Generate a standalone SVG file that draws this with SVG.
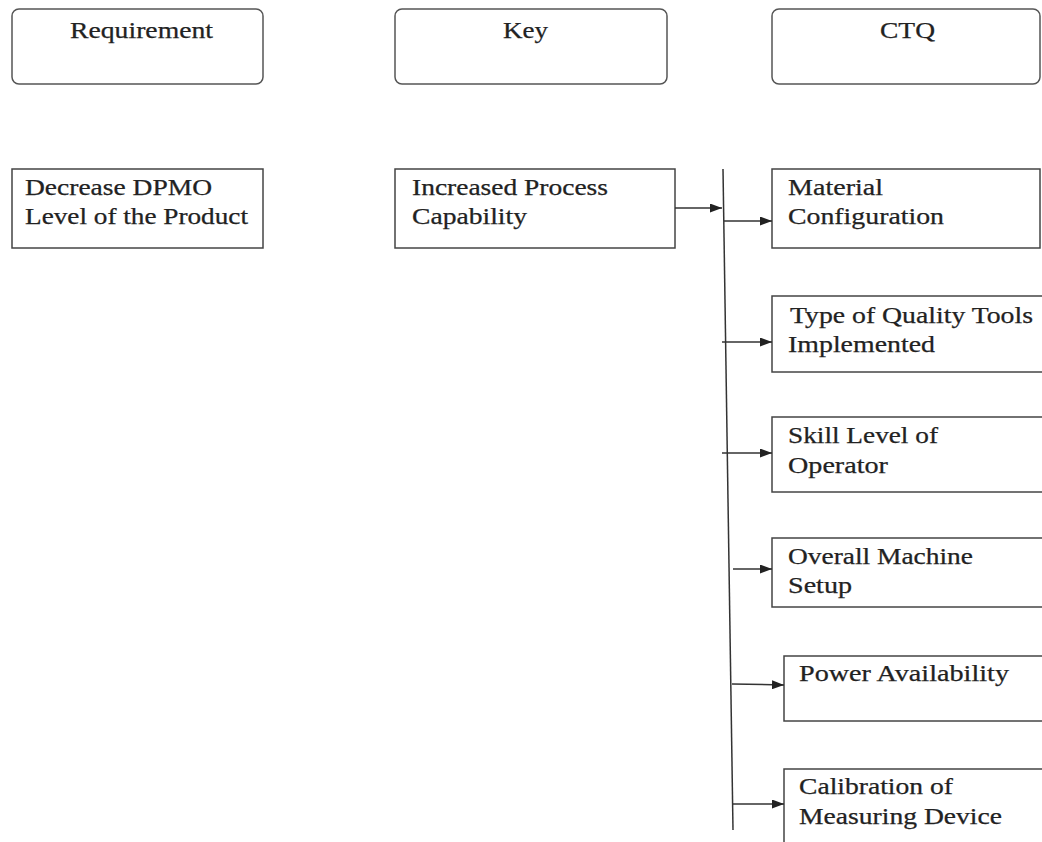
<svg xmlns="http://www.w3.org/2000/svg" width="1042" height="842" viewBox="0 0 1042 842">
  <style>
    .hdr { fill: #ffffff; stroke: #555555; stroke-width: 1.5; }
    .box { fill: #ffffff; stroke: #444444; stroke-width: 1.5; }
    .lbl { font-family: "Liberation Serif", "Times New Roman", serif; font-size: 23px; fill: #222222; stroke: #222222; stroke-width: 0.25; }
    .wire { fill: none; stroke: #333333; stroke-width: 1.5; }
  </style>
  <defs>
    <marker id="arrow" viewBox="0 0 12 9" refX="12" refY="4.5" markerWidth="12" markerHeight="9" markerUnits="userSpaceOnUse" orient="auto">
      <path d="M0,0 L12,4.5 L0,9 Z" fill="#222222"/>
    </marker>
  </defs>
  <rect width="1042" height="842" fill="#ffffff"/>

  <!-- column headers -->
  <g id="hdr-requirement">
    <rect class="hdr" x="12" y="9" width="251" height="75" rx="7"/>
    <text class="lbl" x="70" y="38" textLength="143" lengthAdjust="spacingAndGlyphs">Requirement</text>
  </g>
  <g id="hdr-key">
    <rect class="hdr" x="395" y="9" width="272" height="75" rx="7"/>
    <text class="lbl" x="503" y="38" textLength="45" lengthAdjust="spacingAndGlyphs">Key</text>
  </g>
  <g id="hdr-ctq">
    <rect class="hdr" x="772" y="9" width="268" height="75" rx="7"/>
    <text class="lbl" x="880" y="38" textLength="55" lengthAdjust="spacingAndGlyphs">CTQ</text>
  </g>

  <!-- requirement and key nodes -->
  <g id="node-dpmo">
    <rect class="box" x="12" y="169" width="251" height="79"/>
    <text class="lbl" x="25" y="195" textLength="187" lengthAdjust="spacingAndGlyphs">Decrease DPMO</text>
    <text class="lbl" x="25" y="224" textLength="223" lengthAdjust="spacingAndGlyphs">Level of the Product</text>
  </g>
  <g id="node-capability">
    <rect class="box" x="395" y="169" width="280" height="79"/>
    <text class="lbl" x="412" y="195" textLength="196" lengthAdjust="spacingAndGlyphs">Increased Process</text>
    <text class="lbl" x="412" y="224" textLength="115" lengthAdjust="spacingAndGlyphs">Capability</text>
  </g>

  <!-- CTQ nodes -->
  <g id="node-material">
    <rect class="box" x="772" y="169" width="268" height="79"/>
    <text class="lbl" x="788" y="195" textLength="95" lengthAdjust="spacingAndGlyphs">Material</text>
    <text class="lbl" x="788" y="224" textLength="156" lengthAdjust="spacingAndGlyphs">Configuration</text>
  </g>
  <g id="node-quality-tools">
    <rect class="box" x="772" y="296" width="290" height="76"/>
    <text class="lbl" x="790" y="323" textLength="243" lengthAdjust="spacingAndGlyphs">Type of Quality Tools</text>
    <text class="lbl" x="788" y="352" textLength="147" lengthAdjust="spacingAndGlyphs">Implemented</text>
  </g>
  <g id="node-skill">
    <rect class="box" x="772" y="417" width="290" height="75"/>
    <text class="lbl" x="788" y="443" textLength="150" lengthAdjust="spacingAndGlyphs">Skill Level of</text>
    <text class="lbl" x="788" y="473" textLength="100" lengthAdjust="spacingAndGlyphs">Operator</text>
  </g>
  <g id="node-machine-setup">
    <rect class="box" x="772" y="538" width="290" height="69"/>
    <text class="lbl" x="788" y="564" textLength="185" lengthAdjust="spacingAndGlyphs">Overall Machine</text>
    <text class="lbl" x="788" y="593" textLength="64" lengthAdjust="spacingAndGlyphs">Setup</text>
  </g>
  <g id="node-power">
    <rect class="box" x="784" y="656" width="280" height="65"/>
    <text class="lbl" x="799" y="681" textLength="210" lengthAdjust="spacingAndGlyphs">Power Availability</text>
  </g>
  <g id="node-calibration">
    <rect class="box" x="784" y="769" width="280" height="90"/>
    <text class="lbl" x="799" y="794" textLength="154" lengthAdjust="spacingAndGlyphs">Calibration of</text>
    <text class="lbl" x="799" y="824" textLength="203" lengthAdjust="spacingAndGlyphs">Measuring Device</text>
  </g>

  <!-- connectors -->
  <g id="connectors">
    <line class="wire" x1="723" y1="169" x2="733" y2="830"/>
    <line class="wire" x1="675" y1="208" x2="722" y2="208" marker-end="url(#arrow)"/>
    <line class="wire" x1="724" y1="221" x2="772" y2="221" marker-end="url(#arrow)"/>
    <line class="wire" x1="722" y1="342" x2="772" y2="342" marker-end="url(#arrow)"/>
    <line class="wire" x1="722" y1="453" x2="772" y2="453" marker-end="url(#arrow)"/>
    <line class="wire" x1="733" y1="569" x2="772" y2="569" marker-end="url(#arrow)"/>
    <line class="wire" x1="732" y1="684" x2="784" y2="685" marker-end="url(#arrow)"/>
    <line class="wire" x1="733" y1="804" x2="784" y2="804" marker-end="url(#arrow)"/>
  </g>
</svg>
